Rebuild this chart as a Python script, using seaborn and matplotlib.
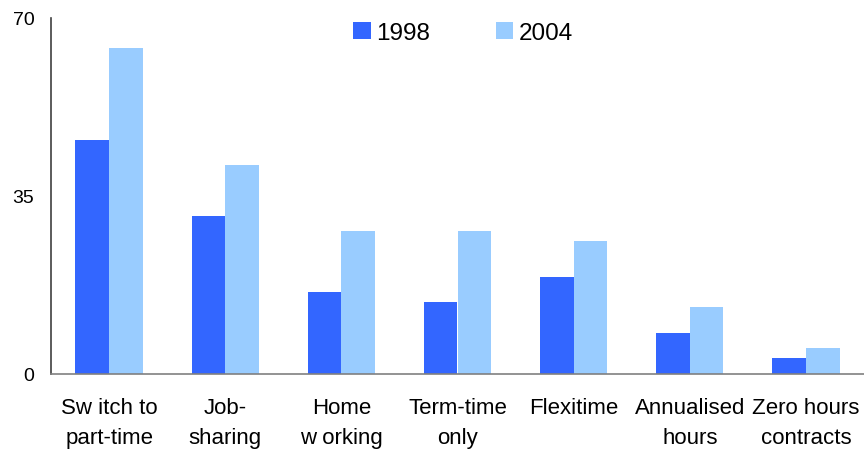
import matplotlib
matplotlib.use("Agg")
import matplotlib.pyplot as plt
import seaborn as sns
import pandas as pd

categories = ["Sw itch to\npart-time", "Job-\nsharing", "Home\nw orking", "Term-time\nonly",
              "Flexitime", "Annualised\nhours", "Zero hours\ncontracts"]
values_1998 = [46, 31, 16, 14, 19, 8, 3]
values_2004 = [64, 41, 28, 28, 26, 13, 5]
years = ["1998", "2004"]
yticks = [0, 35, 70]

df = pd.DataFrame({
    "category": categories * 2,
    "value": values_1998 + values_2004,
    "year": [years[0]] * len(categories) + [years[1]] * len(categories),
})

sns.set_style("white")
plt.rcParams["font.family"] = ["Liberation Sans", "DejaVu Sans"]
plt.rcParams["text.color"] = "black"
plt.rcParams["xtick.color"] = "black"
plt.rcParams["ytick.color"] = "black"

fig = plt.figure(figsize=(8.64, 4.52), dpi=100)
ax = fig.add_axes([51 / 864, 1 - 374.5 / 452, 813 / 864, 356 / 452])

sns.barplot(data=df, x="category", y="value", hue="year", order=categories,
            hue_order=years, palette=["#3366FF", "#99CCFF"], width=0.58,
            saturation=1, linewidth=0, ax=ax, legend=True)

ax.set_ylim(0, 70)
ax.set_xlim(-0.5, len(categories) - 0.5)
ax.set_yticks(yticks)
ax.set_yticklabels([str(v) for v in yticks], fontsize=14, color="black")
ax.tick_params(axis="y", length=0, pad=12, labelcolor="black")
ax.tick_params(axis="x", length=0, pad=17, labelsize=16, labelcolor="black")
for lbl in ax.get_xticklabels():
    lbl.set_linespacing(1.55)
ax.set_xlabel("")
ax.set_ylabel("")
for s in ["top", "right"]:
    ax.spines[s].set_visible(False)
ax.spines["left"].set_color("#404040")
ax.spines["bottom"].set_color("#808080")
for s in ["left", "bottom"]:
    ax.spines[s].set_linewidth(1.2)

leg = ax.legend(loc="upper center", bbox_to_anchor=(0.507, 1.05), ncol=2, frameon=False,
                fontsize=17.5, handlelength=0.72, handleheight=0.72, handletextpad=0.22,
                columnspacing=2.7)
for t in leg.get_texts():
    t.set_color("black")

fig.savefig("out.png", dpi=100)
